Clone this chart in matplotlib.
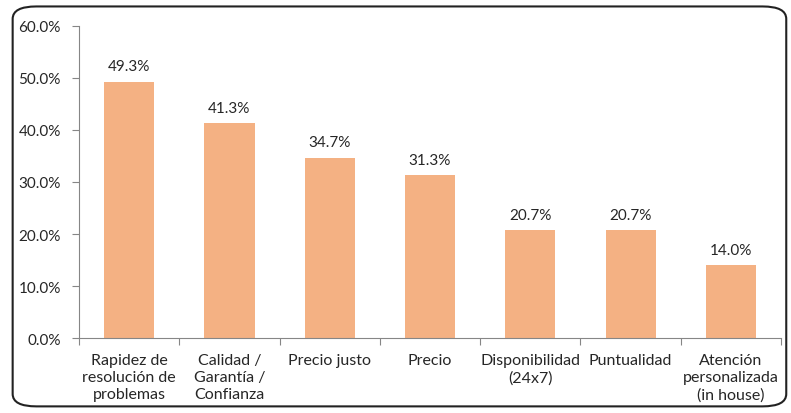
import numpy as np
from matplotlib import pyplot as plt
from matplotlib.patches import FancyBboxPatch
from matplotlib.ticker import FuncFormatter

categories = ['Rapidez de\nresolución de\nproblemas', 'Calidad /\nGarantía /\nConfianza',
              'Precio justo', 'Precio', 'Disponibilidad\n(24x7)', 'Puntualidad',
              'Atención\npersonalizada\n(in house)']
values = [49.3, 41.3, 34.7, 31.3, 20.7, 20.7, 14.0]

plt.rcParams['font.family'] = ['Lato', 'DejaVu Sans']
text_color = '#262626'
axis_color = '#868686'

fig = plt.figure(figsize=(7.91, 4.14), dpi=100)
ax = fig.add_axes([0.0999, 0.181, 0.8875, 0.754])

x = np.arange(len(values))
bars = ax.bar(x, values, width=0.5, color='#F4B183')
for xi, v in zip(x, values):
    ax.text(xi, v + 1.6, '%.1f%%' % v, ha='center', va='bottom',
            fontsize=11, color=text_color)

ax.set_xlim(-0.5, len(values) - 0.5)
ax.set_ylim(0, 60)
ax.set_yticks(np.arange(0, 61, 10))
ax.yaxis.set_major_formatter(FuncFormatter(lambda v, p: '%.1f%%' % v))

# category boundaries get the tick marks, labels sit in the middle
ax.set_xticks(np.arange(-0.5, len(values), 1))
ax.set_xticklabels([])
ax.set_xticks(x, minor=True)
ax.set_xticklabels(categories, minor=True, linespacing=1.25)
ax.tick_params(axis='x', which='minor', length=0, pad=11, labelsize=11.5, colors=text_color)
ax.tick_params(axis='x', which='major', length=5, color=axis_color)
ax.tick_params(axis='y', length=5, color=axis_color, labelsize=11,
               labelcolor=text_color, pad=8)

for s in ['top', 'right']:
    ax.spines[s].set_visible(False)
for s in ['left', 'bottom']:
    ax.spines[s].set_color(axis_color)

border = FancyBboxPatch((0.016, 0.016), 0.978, 0.966, transform=fig.transFigure,
                        boxstyle='round,pad=0,rounding_size=0.03',
                        facecolor='none', edgecolor='#222222', linewidth=1.5)
fig.patches.append(border)

fig.savefig('out.png', dpi=100)
